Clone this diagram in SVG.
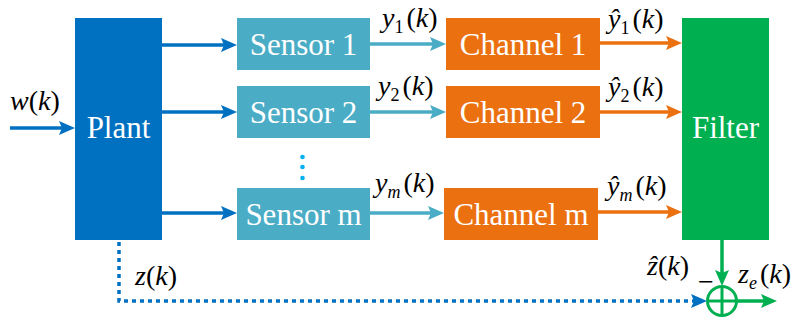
<svg xmlns="http://www.w3.org/2000/svg" width="796" height="322" viewBox="0 0 796 322">
<style>
.bt{fill:#fff;font-size:31px;text-anchor:middle}
.lb{fill:#000;font-size:28px;font-style:italic}
.up{font-style:normal}
.sb{font-size:18px}
.ln{fill:none;stroke-width:3.5}
</style>
<defs>
<marker id="aB" viewBox="0 0 16 14" refX="8" refY="7" markerWidth="16" markerHeight="14" markerUnits="userSpaceOnUse" orient="auto"><path d="M0,0 L16,7 L0,14 L3,7 z" fill="#0070C0"/></marker>
<marker id="aL" viewBox="0 0 16 14" refX="8" refY="7" markerWidth="16" markerHeight="14" markerUnits="userSpaceOnUse" orient="auto"><path d="M0,0 L16,7 L0,14 L3,7 z" fill="#4BACC6"/></marker>
<marker id="aO" viewBox="0 0 16 14" refX="8" refY="7" markerWidth="16" markerHeight="14" markerUnits="userSpaceOnUse" orient="auto"><path d="M0,0 L16,7 L0,14 L3,7 z" fill="#EB7010"/></marker>
<marker id="aG" viewBox="0 0 16 14" refX="8" refY="7" markerWidth="16" markerHeight="14" markerUnits="userSpaceOnUse" orient="auto"><path d="M0,0 L16,7 L0,14 L3,7 z" fill="#00B050"/></marker>
</defs>
<rect width="796" height="322" fill="#fff"/>
<g id="connectors">
<line class="ln" x1="10" y1="128" x2="67" y2="128" stroke="#0070C0" marker-end="url(#aB)"/>
<line class="ln" x1="162" y1="45" x2="229" y2="45" stroke="#0070C0" marker-end="url(#aB)"/>
<line class="ln" x1="162" y1="112" x2="229" y2="112" stroke="#0070C0" marker-end="url(#aB)"/>
<line class="ln" x1="162" y1="213" x2="229" y2="213" stroke="#0070C0" marker-end="url(#aB)"/>
<line class="ln" x1="370" y1="44" x2="438" y2="44" stroke="#4BACC6" marker-end="url(#aL)"/>
<line class="ln" x1="370" y1="112" x2="438" y2="112" stroke="#4BACC6" marker-end="url(#aL)"/>
<line class="ln" x1="370" y1="213" x2="436" y2="213" stroke="#4BACC6" marker-end="url(#aL)"/>
<line class="ln" x1="600" y1="43" x2="674" y2="43" stroke="#EB7010" marker-end="url(#aO)"/>
<line class="ln" x1="600" y1="112" x2="674" y2="112" stroke="#EB7010" marker-end="url(#aO)"/>
<line class="ln" x1="598" y1="212" x2="674" y2="212" stroke="#EB7010" marker-end="url(#aO)"/>
<line class="ln" x1="722" y1="240" x2="722" y2="278" stroke="#00B050" marker-end="url(#aG)"/>
<line class="ln" x1="737" y1="301" x2="769" y2="301" stroke="#00B050" marker-end="url(#aG)"/>
<path class="ln" d="M119,242 V301 H699" stroke="#0070C0" stroke-dasharray="4 4" marker-end="url(#aB)"/>
</g>
<g font-family="'Liberation Serif', 'Times New Roman', serif">
<g id="plant"><rect x="75" y="18" width="87" height="222" fill="#0070C0"/><text class="bt" x="118.5" y="138">Plant</text></g>
<g id="sensor1"><rect x="237" y="18" width="133" height="52" fill="#4BACC6"/><text class="bt" x="303.5" y="55">Sensor 1</text></g>
<g id="sensor2"><rect x="237" y="86" width="133" height="52" fill="#4BACC6"/><text class="bt" x="303.5" y="123">Sensor 2</text></g>
<g id="sensorm"><rect x="237" y="188" width="133" height="52" fill="#4BACC6"/><text class="bt" x="303.5" y="225">Sensor m</text></g>
<g id="dots" fill="#00B0F0"><circle cx="302.5" cy="157" r="2.3"/><circle cx="302.5" cy="167" r="2.3"/><circle cx="302.5" cy="178" r="2.3"/></g>
<g id="channel1"><rect x="446" y="18" width="154" height="52" fill="#EB7010"/><text class="bt" x="523" y="55">Channel 1</text></g>
<g id="channel2"><rect x="446" y="86" width="154" height="52" fill="#EB7010"/><text class="bt" x="523" y="123">Channel 2</text></g>
<g id="channelm"><rect x="444" y="188" width="154" height="52" fill="#EB7010"/><text class="bt" x="521" y="225">Channel m</text></g>
<g id="filter"><rect x="682" y="18" width="87" height="222" fill="#00B050"/><text class="bt" x="725.5" y="138">Filter</text></g>
<g id="sum" stroke="#00B050" stroke-width="3" fill="none"><circle cx="722" cy="301" r="14.5"/><line x1="707.5" y1="301" x2="736.5" y2="301"/><line x1="722" y1="286.5" x2="722" y2="315.5"/></g>
<g id="labels">
<text class="lb" x="10" y="110">w<tspan class="up">(</tspan>k<tspan class="up">)</tspan></text>
<text class="lb" x="382" y="27">y<tspan class="up sb" dy="6">1</tspan><tspan class="up" dy="-6" dx="3">(</tspan>k<tspan class="up">)</tspan></text>
<text class="lb" x="378" y="95">y<tspan class="up sb" dy="6">2</tspan><tspan class="up" dy="-6" dx="3">(</tspan>k<tspan class="up">)</tspan></text>
<text class="lb" x="375" y="192">y<tspan class="sb" dy="6">m</tspan><tspan class="up" dy="-6" dx="3">(</tspan>k<tspan class="up">)</tspan></text>
<text class="lb" x="608" y="28">ŷ<tspan class="up sb" dy="6">1</tspan><tspan class="up" dy="-6" dx="3">(</tspan>k<tspan class="up">)</tspan></text>
<text class="lb" x="608" y="96">ŷ<tspan class="up sb" dy="6">2</tspan><tspan class="up" dy="-6" dx="3">(</tspan>k<tspan class="up">)</tspan></text>
<text class="lb" x="607" y="195">ŷ<tspan class="sb" dy="6">m</tspan><tspan class="up" dy="-6" dx="3">(</tspan>k<tspan class="up">)</tspan></text>
<text class="lb" x="135" y="285">z<tspan class="up">(</tspan>k<tspan class="up">)</tspan></text>
<text class="lb" x="647" y="275">ẑ<tspan class="up">(</tspan>k<tspan class="up">)</tspan></text>
<text class="lb up" x="698" y="291">−</text>
<text class="lb" x="738" y="283">z<tspan class="sb" dy="6">e</tspan><tspan class="up" dy="-6" dx="3">(</tspan>k<tspan class="up">)</tspan></text>
</g>
</g>
</svg>
